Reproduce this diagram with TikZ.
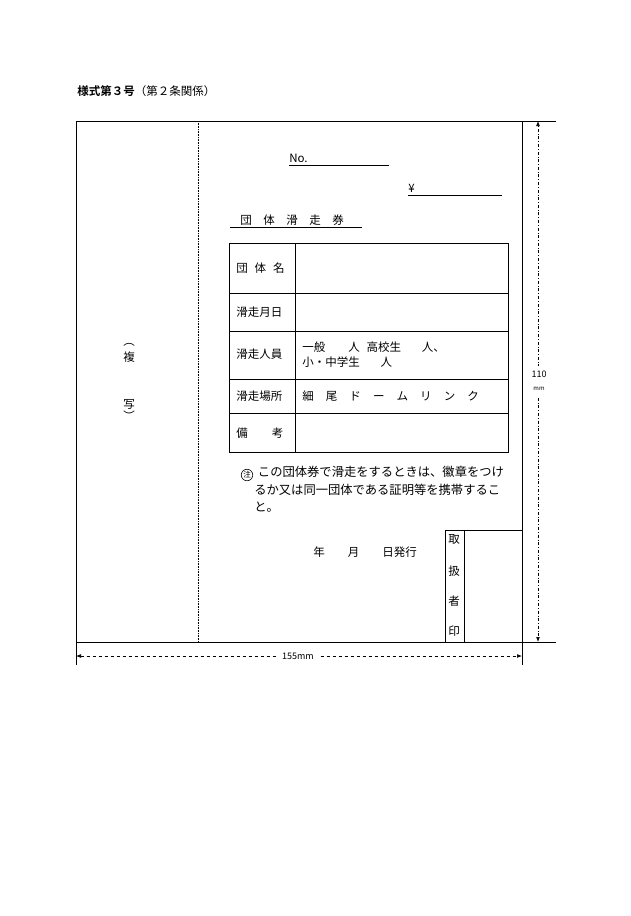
\documentclass[tikz,border=0pt]{standalone}
\usepackage{fontspec}
\setmainfont{Noto Sans CJK JP}
\newfontfamily\jpb{Noto Sans CJK JP Bold}
\usetikzlibrary{arrows.meta}
\begin{document}
\begin{tikzpicture}[x=1pt,y=-1pt,line width=0.6pt,
  txt/.style={inner sep=0pt,font=\fontsize{11.5}{13}\selectfont},
  lbl/.style={txt,anchor=west}]
\useasboundingbox (0,0) rectangle (630,916);
\fill[white] (0,0) rectangle (630,916);
\node[lbl] (hdr) at (77,91) {{\jpb 様式第３号}（第２条関係）};
% frame
\draw (76,121) -- (556,121);
\draw (76,642) -- (556,642);
\draw (76,121) -- (76,665);
\draw (522,121) -- (522,665);
\draw[densely dotted] (198,121) -- (198,642);
% dims
\coordinate (vt) at (538,121); \coordinate (vb) at (538,642);
\draw[dash dot,-{Latex[length=5pt]}] (538,375) -- (vt) ;
\draw[dash dot,-{Latex[length=5pt]}] (538,375) -- (vb);
\fill[white] (530,366) rectangle (548,396);
\node[txt,font=\fontsize{9}{10}\selectfont] (h110) at (539,374) {110};
\node[txt,font=\fontsize{6}{7}\selectfont] (hmm) at (539,389) {mm};
\coordinate (hl) at (76,656); \coordinate (hr) at (522,656);
\draw[dashed,{Latex[length=5pt]}-{Latex[length=5pt]}] (hl) -- (hr);
\node[txt,fill=white,inner xsep=6pt,inner ysep=2pt,font=\fontsize{9}{10}\selectfont] (w155) at (298,656) {155mm};
% left copy
\node[txt] (p1) at (129,345) {︵};
\node[txt] (fuku) at (129,357) {複};
\node[txt] (sha) at (129,404) {写};
\node[txt] (p2) at (129,416) {︶};
% No and yen
\node[lbl] (no) at (289,158) {No.};
\draw (289,165) -- (389,165);
\node[lbl] (yen) at (408,188) {¥};
\draw (408,195) -- (502,195);
\node[lbl] (title) at (240,220) {団\hspace{1em}体\hspace{1em}滑\hspace{1em}走\hspace{1em}券};
\draw (230,227) -- (362,227);
% table
\draw (229,243) rectangle (508,452);
\draw (295,243) -- (295,452);
\foreach \y in {293,331,379,413} \draw (229,\y) -- (508,\y);
\node[lbl] (r1) at (236,268) {団\hspace{0.6em}体\hspace{0.6em}名};
\node[lbl] (r2) at (236,312) {滑走月日};
\node[lbl] (r3) at (236,354) {滑走人員};
\node[lbl] (r4) at (236,396) {滑走場所};
\node[lbl] (r5) at (236,433) {備\hspace{2.1em}考};
\node[lbl] (v3a) at (302,347) {一般\hspace{2em}人\hspace{0.6em}高校生\hspace{1.8em}人、};
\node[lbl] (v3b) at (302,362) {小・中学生\hspace{1.8em}人};
\node[lbl] (v4) at (302,396) {細\hspace{1.05em}尾\hspace{1.05em}ド\hspace{1.05em}ー\hspace{1.05em}ム\hspace{1.05em}リ\hspace{1.05em}ン\hspace{1.05em}ク};
% note
\node[draw,circle,inner sep=0.5pt,font=\fontsize{7.5}{8}\selectfont] (chu) at (247,475) {注};
\node[lbl,align=left,anchor=north west,font=\fontsize{12.3}{17.5}\selectfont] (note) at (254,466) {\hspace{0.3em}この団体券で滑走をするときは、徽章をつけ\\るか又は同一団体である証明等を携帯するこ\\と。};
\node[lbl] (date) at (313,552) {年\hspace{2em}月\hspace{2em}日発行};
% stamp box
\draw (445,642) -- (445,530) -- (522,530);
\draw (464,530) -- (464,642);
\node[txt] (s1) at (454,539) {取};
\node[txt] (s2) at (454,571) {扱};
\node[txt] (s3) at (454,601) {者};
\node[txt] (s4) at (454,631) {印};
\end{tikzpicture}
\end{document}
